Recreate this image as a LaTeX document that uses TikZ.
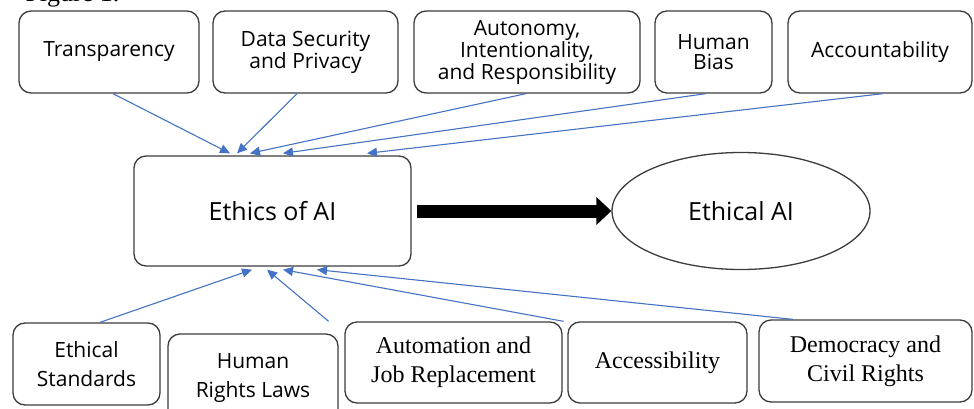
\documentclass[tikz,border=0pt]{standalone}
\usepackage{fontspec}
\setmainfont{Liberation Serif}
\newfontfamily\boxsans{Open Sans}
\usepackage{tikz}
\usetikzlibrary{shapes.geometric,
                arrows.meta,
                calc}
\definecolor{linkblue}{RGB}{68,114,196}
\definecolor{edgegray}{RGB}{60,60,60}
\tikzstyle{box} = [rectangle, rounded corners=12pt, draw=edgegray, line width=1.3pt, fill=white, align=center, inner sep=0pt]
\tikzstyle{topbox} = [box, minimum height=82pt, font=\boxsans\fontsize{21}{19.5}\selectfont]
\tikzstyle{sansbox} = [box, font=\boxsans\fontsize{21}{29}\selectfont]
\tikzstyle{serifbox} = [box, minimum height=81pt, font=\fontsize{24}{29}\selectfont]
\tikzstyle{link} = [linkblue, line width=1.1pt, -{Triangle[length=10pt,width=9pt]}]
\tikzstyle{bigarrow} = [black, line width=13pt, -{Triangle[length=15pt,width=27pt]}]

\begin{document}
\begin{tikzpicture}[x=1pt,y=-1pt]
\useasboundingbox (0,0) rectangle (974,409);
\node[anchor=base west, font=\fontsize{26}{26}\selectfont] (figlabel) at (22,2) {Figure 1.};
% top row
\node[topbox, minimum width=180pt] (trans) at (109,52) {Transparency};
\node[topbox, minimum width=185pt] (data) at (305.5,52) {Data Security\\and Privacy};
\node[topbox, minimum width=226pt] (auto) at (527,52) {Autonomy,\\Intentionality,\\and Responsibility};
\node[topbox, minimum width=117pt] (bias) at (713.5,52) {Human\\Bias};
\node[topbox, minimum width=184pt] (acct) at (880,52) {Accountability};
% middle
\node[box, minimum width=277pt, minimum height=110pt, font=\boxsans\fontsize{25}{25}\selectfont] (ethics) at (272.5,211) {Ethics of AI};
\node[ellipse, draw=edgegray, line width=1.3pt, minimum width=258pt, minimum height=117pt, inner sep=0pt, font=\boxsans\fontsize{25}{25}\selectfont] (goal) at (741,211) {Ethical AI};
\draw[bigarrow] ([xshift=5pt]ethics.east) -- (goal.west);
% bottom row
\node[sansbox, minimum width=147pt, minimum height=82pt] (stand) at (86.5,364) {Ethical\\Standards};
\node[sansbox, minimum width=170pt, minimum height=88pt] (rights) at (253,378) {Human\\Rights Laws};
\node[serifbox, minimum width=217pt] (job) at (453.5,362.5) {Automation and\\Job Replacement};
\node[serifbox, minimum width=179pt] (access) at (657.5,362.5) {Accessibility};
\node[serifbox, minimum width=213pt, minimum height=82pt] (civil) at (865.5,361) {Democracy and\\Civil Rights};
% links into ethics
\draw[link] ([xshift=4pt]trans.south) -- ([xshift=-42.5pt,yshift=2pt]ethics.north);
\draw[link] ([xshift=-8.5pt]data.south) -- ([xshift=-35.5pt,yshift=2pt]ethics.north);
\draw[link] ([xshift=-1pt]auto.south) -- ([xshift=-22.5pt,yshift=2pt]ethics.north);
\draw[link] ([xshift=-7.5pt]bias.south) -- ([xshift=10.5pt,yshift=2pt]ethics.north);
\draw[link] ([xshift=3pt]acct.south) -- ([xshift=94.5pt,yshift=2pt]ethics.north);
\draw[link] ([xshift=13.5pt]stand.north) -- ([xshift=-20.5pt,yshift=-3pt]ethics.south);
\draw[link] ([xshift=-10pt,yshift=12pt]rights.north east) -- ([xshift=-5.5pt,yshift=-3pt]ethics.south);
\draw[link] ([xshift=1pt]job.north east) -- ([xshift=10.5pt,yshift=-3pt]ethics.south);
\draw[link] ([xshift=-72.5pt]civil.north) -- ([xshift=44.5pt,yshift=-3pt]ethics.south);
\end{tikzpicture}
\end{document}
